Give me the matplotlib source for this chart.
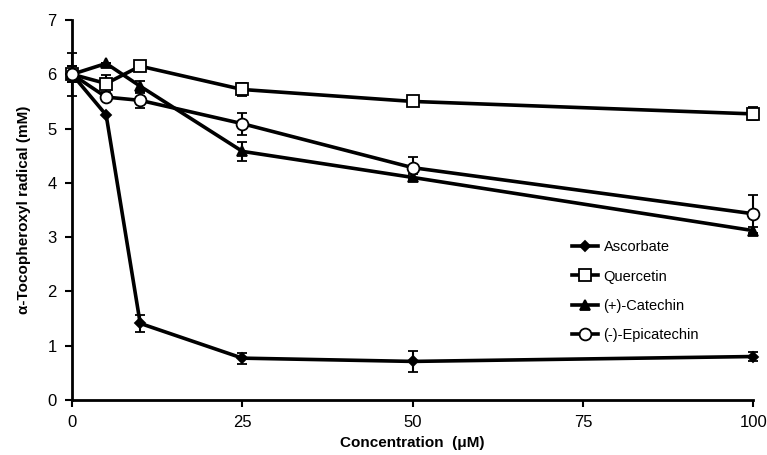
import matplotlib
matplotlib.use("Agg")
import matplotlib.pyplot as plt
from matplotlib.lines import Line2D

plt.rcParams['font.family'] = ['Liberation Sans', 'DejaVu Sans']

conc = [0, 5, 10, 25, 50, 100]

ascorbate = [6.0, 5.25, 1.41, 0.77, 0.71, 0.80]
ascorbate_err = [0.40, 0.0, 0.15, 0.10, 0.19, 0.09]

quercetin = [6.0, 5.83, 6.15, 5.72, 5.50, 5.27]
quercetin_err = [0.15, 0.15, 0.08, 0.12, 0.0, 0.12]

catechin = [6.0, 6.20, 5.78, 4.58, 4.10, 3.12]
catechin_err = [0.0, 0.0, 0.10, 0.17, 0.06, 0.06]

epicatechin = [6.0, 5.58, 5.52, 5.09, 4.28, 3.43]
epicatechin_err = [0.15, 0.0, 0.14, 0.20, 0.20, 0.35]

labels = ['Ascorbate', 'Quercetin', '(+)-Catechin', '(-)-Epicatechin']
xticks = [0, 25, 50, 75, 100]
yticks = [0, 1, 2, 3, 4, 5, 6, 7]

fig = plt.figure(figsize=(7.67, 4.55), dpi=100)
ax = fig.add_axes([0.094, 0.121, 0.888, 0.835])

styles = [
    dict(marker='D', markersize=5.5, markerfacecolor='black'),
    dict(marker='s', markersize=8, markerfacecolor='white'),
    dict(marker='^', markersize=7.5, markerfacecolor='black'),
    dict(marker='o', markersize=8.5, markerfacecolor='white'),
]
data = [(ascorbate, ascorbate_err), (quercetin, quercetin_err),
        (catechin, catechin_err), (epicatechin, epicatechin_err)]

for (vals, err), st, lab in zip(data, styles, labels):
    ax.errorbar(conc, vals, yerr=err, color='black', linewidth=2.6,
                elinewidth=1.5, capsize=3.5, capthick=1.5,
                markeredgecolor='black', markeredgewidth=1.3,
                label=lab, zorder=3, clip_on=False, **st)

ax.set_xlim(0, 100)
ax.set_ylim(0, 7)
ax.set_xticks(xticks)
ax.set_yticks(yticks)
ax.tick_params(axis='both', labelsize=12, direction='out', length=5, width=1.5, pad=6)
for s in ['top', 'right']:
    ax.spines[s].set_visible(False)
for s in ['left', 'bottom']:
    ax.spines[s].set_linewidth(2)

ax.set_xlabel('Concentration  (μM)', fontsize=11, fontweight='bold', labelpad=4)
ax.set_ylabel('α-Tocopheroxyl radical (mM)', fontsize=11, fontweight='bold', labelpad=12)

handles = [Line2D([], [], color='black', linewidth=2.6, markeredgecolor='black',
                  markeredgewidth=1.3, **st) for st in styles]
leg = ax.legend(handles, labels, loc='upper left', bbox_to_anchor=(0.715, 0.455),
                frameon=False, fontsize=10.5, handlelength=1.8, handletextpad=0.35,
                labelspacing=1.05)

fig.savefig('out.png', dpi=100)
